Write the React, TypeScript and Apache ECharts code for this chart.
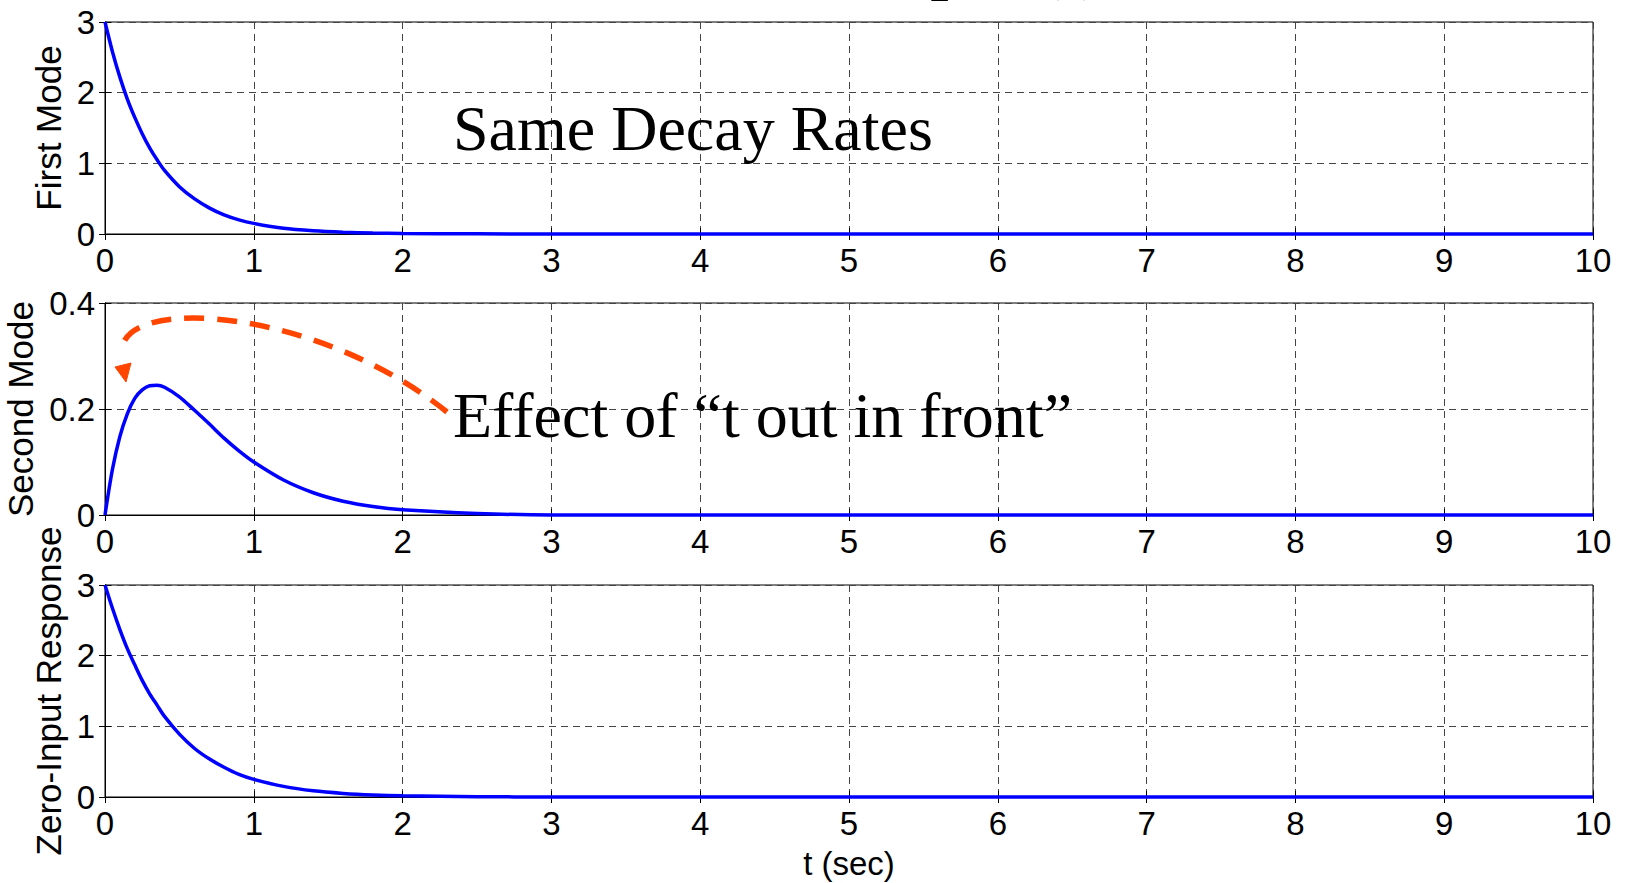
import React, { useEffect, useRef } from "react";
import * as echarts from "echarts";

const T = [0, 0.05, 0.1, 0.15, 0.2, 0.25, 0.3, 0.35, 0.4, 0.5, 0.6, 0.7, 0.8, 0.9, 1.0, 1.2, 1.4, 1.6, 1.8, 2.0, 2.5, 3, 4, 5, 6, 7, 8, 9, 10];
const firstMode = [3, 2.58, 2.22, 1.91, 1.65, 1.42, 1.22, 1.05, 0.9, 0.67, 0.5, 0.37, 0.27, 0.2, 0.15, 0.08, 0.045, 0.025, 0.013, 0.007, 0.002, 0, 0, 0, 0, 0, 0, 0, 0];
const secondMode = [0, 0.086, 0.148, 0.191, 0.22, 0.236, 0.244, 0.245, 0.241, 0.223, 0.198, 0.172, 0.145, 0.121, 0.1, 0.066, 0.042, 0.026, 0.016, 0.01, 0.003, 0, 0, 0, 0, 0, 0, 0, 0];
const zeroInput = [3, 2.67, 2.37, 2.1, 1.87, 1.65, 1.46, 1.3, 1.14, 0.89, 0.69, 0.54, 0.42, 0.32, 0.25, 0.15, 0.087, 0.051, 0.029, 0.017, 0.005, 0, 0, 0, 0, 0, 0, 0, 0];

const panelNames = ["First Mode", "Second Mode", "Zero-Input Response"];
const panelMax = [3, 0.4, 3];
const panelInterval = [1, 0.2, 1];
const panelSeries = [firstMode, secondMode, zeroInput];
const xLabel = "t (sec)";
const note1 = "Same Decay Rates";
const note2 = "Effect of \u201ct out in front\u201d";
const cutTitle = "Zero-Input (t)";

const SANS = "'Liberation Sans', Arial, Helvetica, sans-serif";
const SERIF = "'Liberation Serif', 'Times New Roman', Times, serif";

export default function App() {
  const ref = useRef<HTMLDivElement>(null);
  useEffect(() => {
    if (!ref.current) return;
    const chart = echarts.init(ref.current, null, { renderer: "svg" });
    const tops = [22, 303, 585];
    const grids = tops.map((top) => ({
      left: 105,
      right: 33,
      top,
      height: 212,
      show: true,
      borderColor: "#000",
      borderWidth: 1,
      backgroundColor: "#fff",
      containLabel: false,
      outerBoundsMode: "none",
    }));
    const splitLine = { show: true, lineStyle: { color: "#444", width: 1, type: [7, 5] as any } };
    const xAxes: any[] = [];
    const yAxes: any[] = [];
    tops.forEach((_, i) => {
      xAxes.push({
        type: "value",
        gridIndex: i,
        min: 0,
        max: 10,
        interval: 1,
        position: "bottom",
        axisLine: { show: true, lineStyle: { color: "#000", width: 1 } },
        axisTick: { show: true, inside: true, length: 6, lineStyle: { color: "#000" } },
        axisLabel: { color: "#000", fontSize: 33, fontFamily: SANS, margin: 10 },
        splitLine,
        name: i === 2 ? xLabel : "",
        nameLocation: "middle",
        nameGap: 50,
        nameTextStyle: { color: "#000", fontSize: 33, fontFamily: SANS },
      });
      xAxes.push({
        type: "value",
        gridIndex: i,
        min: 0,
        max: 10,
        interval: 1,
        position: "top",
        axisLine: { show: true, lineStyle: { color: "#000", width: 1 } },
        axisTick: { show: true, inside: true, length: 6, lineStyle: { color: "#000" } },
        axisLabel: { show: false },
        splitLine: { show: false },
      });
      yAxes.push({
        type: "value",
        gridIndex: i,
        min: 0,
        max: panelMax[i],
        interval: panelInterval[i],
        position: "left",
        axisLine: { show: true, lineStyle: { color: "#000", width: 1 } },
        axisTick: { show: true, inside: true, length: 6, lineStyle: { color: "#000" } },
        axisLabel: { color: "#000", fontSize: 33, fontFamily: SANS, margin: 10 },
        splitLine,
        name: panelNames[i],
        nameLocation: "middle",
        nameGap: i === 1 ? 43 : 25,
        nameTextStyle: { color: "#000", fontSize: 35, fontFamily: SANS },
      });
      yAxes.push({
        type: "value",
        gridIndex: i,
        min: 0,
        max: panelMax[i],
        interval: panelInterval[i],
        position: "right",
        axisLine: { show: true, lineStyle: { color: "#000", width: 1 } },
        axisTick: { show: true, inside: true, length: 6, lineStyle: { color: "#000" } },
        axisLabel: { show: false },
        splitLine: { show: false },
      });
    });
    const series = panelSeries.map((vals, i) => ({
      type: "line",
      xAxisIndex: i * 2,
      yAxisIndex: i * 2,
      data: T.map((t, k) => [t, vals[k]]),
      showSymbol: false,
      symbol: "none",
      smooth: 0.3,
      clip: false,
      lineStyle: { color: "#0000ff", width: 3.5 },
      z: 5,
    }));
    chart.setOption({
      animation: false,
      backgroundColor: "#fff",
      grid: grids,
      xAxis: xAxes,
      yAxis: yAxes,
      series,
      graphic: [
        {
          type: "text",
          x: 1103,
          y: -35,
          style: { text: cutTitle, font: `bold 64px ${SERIF}`, fill: "#000", align: "right", verticalAlign: "middle" },
        },
        {
          type: "text",
          x: 453,
          y: 128,
          z: 10,
          style: { text: note1, font: `64px ${SERIF}`, fill: "#000", align: "left", verticalAlign: "middle" },
        },
        {
          type: "text",
          x: 453,
          y: 415,
          z: 10,
          style: { text: note2, font: `64px ${SERIF}`, fill: "#000", align: "left", verticalAlign: "middle" },
        },
        {
          type: "bezierCurve",
          z: 10,
          shape: { x1: 447, y1: 412, cpx1: 320, cpy1: 310, cpx2: 130, cpy2: 295, x2: 122, y2: 348 },
          style: { stroke: "#ff4500", lineWidth: 5.5, lineDash: [20, 13], fill: null },
        },
        {
          type: "polygon",
          z: 10,
          shape: { points: [[115, 367], [131, 363], [126, 382]] },
          style: { fill: "#ff4500", stroke: "#ff4500", lineWidth: 1 },
        },
      ],
    });
    return () => chart.dispose();
  }, []);
  return (
    <div
      ref={ref}
      style={{ position: "fixed", left: 0, top: 0, width: 1626, height: 883, background: "#fff" }}
    />
  );
}
